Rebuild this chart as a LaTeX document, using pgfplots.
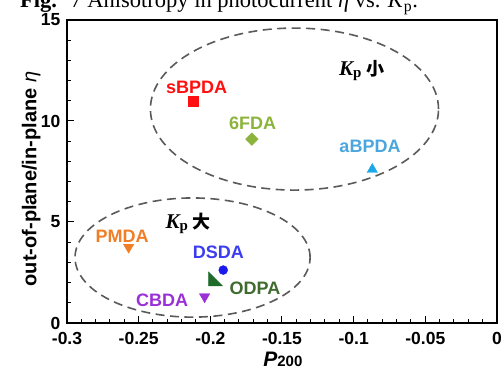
\documentclass[border=0pt]{standalone}
\usepackage{pgfplots}
\pgfplotsset{compat=1.18}
\usepackage{fontspec}
\setmainfont{Liberation Sans}
\newfontfamily\serif{Liberation Serif}
\newfontfamily\cjk{Noto Sans CJK SC}
\definecolor{cRed}{HTML}{FF1010}
\definecolor{cOlive}{HTML}{8CB43C}
\definecolor{cLBlue}{HTML}{1AA8E8}
\definecolor{cLBlueT}{HTML}{4AA6DC}
\definecolor{cOrange}{HTML}{F07E26}
\definecolor{cBlue}{HTML}{1A1AEE}
\definecolor{cBlueT}{HTML}{3C3CF0}
\definecolor{cDGreen}{HTML}{1E6B2A}
\definecolor{cDGreenT}{HTML}{3F6B2E}
\definecolor{cPurple}{HTML}{9A30D8}
\definecolor{cDash}{HTML}{5A5A5A}
\pgfdeclareplotmark{rtri}{%
  \pgfpathmoveto{\pgfqpoint{-\pgfplotmarksize}{\pgfplotmarksize}}%
  \pgfpathlineto{\pgfqpoint{-\pgfplotmarksize}{-\pgfplotmarksize}}%
  \pgfpathlineto{\pgfqpoint{\pgfplotmarksize}{-\pgfplotmarksize}}%
  \pgfpathclose\pgfusepathqfillstroke}
\newcommand{\lab}{\fontsize{18}{18}\selectfont\bfseries}
\newcommand{\kp}[1]{{\serif\fontsize{21}{21}\selectfont\bfseries\itshape K}\raisebox{-2pt}{\serif\fontsize{15}{15}\selectfont\bfseries p}\hspace{5pt}{\cjk\fontsize{18}{18}\selectfont\bfseries #1}}
\begin{document}
\begin{tikzpicture}
\begin{axis}[
  at={(67pt,48pt)}, anchor=south west,
  scale only axis, width=430pt, height=303pt,
  xmin=-0.3, xmax=0, ymin=0, ymax=15,
  xtick={-0.3,-0.25,-0.2,-0.15,-0.1,-0.05,0},
  xticklabels={-0.3,-0.25,-0.2,-0.15,-0.1,-0.05,0},
  ytick={0,5,10,15},
  yticklabels={0,5,10,15},
  minor x tick num=4, minor y tick num=4,
  xtick pos=bottom, ytick pos=left,
  tick align=inside,
  major tick length=7pt, minor tick length=4pt,
  every tick/.style={black, line width=1pt},
  axis line style={line width=1.3pt},
  tick label style={font=\fontsize{17.5}{17.5}\selectfont\bfseries, inner sep=1pt},
  xticklabel style={yshift=-8.5pt},
  yticklabel style={xshift=-5.5pt},
  xlabel={{\fontsize{21}{21}\selectfont\bfseries\itshape P}{\fontsize{15}{15}\selectfont\bfseries 200}},
  ylabel={{\fontsize{20}{20}\selectfont\bfseries out-of-plane/in-plane \itshape\mdseries η}},
  every axis x label/.style={at={(axis description cs:0.502,-0.12)}, anchor=center},
  every axis y label/.style={at={(axis description cs:-0.083,0.475)}, anchor=center, rotate=90},
  clip=false,
]
\draw[cDash, line width=1.6pt, dash pattern=on 9pt off 5.5pt] (axis cs:-0.1413,10.59) ellipse [x radius=0.1005, y radius=4.01];
\draw[cDash, line width=1.6pt, dash pattern=on 9pt off 5.5pt] (axis cs:-0.2124,3.24) ellipse [x radius=0.082, y radius=2.95];
\addplot[only marks, mark=square*, mark size=5pt, color=cRed] coordinates {(-0.212,11.0)};
\addplot[only marks, mark=square*, mark size=4.5pt, mark options={rotate=45}, color=cOlive] coordinates {(-0.171,9.1)};
\addplot[only marks, mark=triangle*, mark size=6pt, color=cLBlue] coordinates {(-0.087,7.6)};
\addplot[only marks, mark=triangle*, mark size=6pt, mark options={rotate=180}, color=cOrange] coordinates {(-0.257,3.75)};
\addplot[only marks, mark=*, mark size=4.5pt, color=cBlue] coordinates {(-0.191,2.62)};
\addplot[only marks, mark=rtri, mark size=7pt, color=cDGreen] coordinates {(-0.1964,2.18)};
\addplot[only marks, mark=triangle*, mark size=6pt, mark options={rotate=180}, color=cPurple] coordinates {(-0.204,1.3)};
\node[text=cRed, font=\lab] at (axis cs:-0.2095,11.68) {sBPDA};
\node[text=cOlive, font=\lab] at (axis cs:-0.1705,9.9) {6FDA};
\node[text=cLBlueT, font=\lab] at (axis cs:-0.0886,8.73) {aBPDA};
\node[text=cOrange, font=\lab] at (axis cs:-0.2616,4.31) {PMDA};
\node[text=cBlueT, font=\lab] at (axis cs:-0.1944,3.48) {DSDA};
\node[text=cDGreenT, font=\lab] at (axis cs:-0.1688,1.73) {ODPA};
\node[text=cPurple, font=\lab] at (axis cs:-0.2337,1.14) {CBDA};
\node at (axis cs:-0.0944,12.52) {\kp{小}};
\node at (axis cs:-0.2154,4.94) {\kp{大}};
\end{axis}
\node[anchor=base west, inner sep=0pt, font=\serif\fontsize{22.5}{22.5}\selectfont] at (20pt,363pt) {{\bfseries Fig.}\hspace{0.6em}7 Anisotropy in photocurrent \textit{η} vs. \textit{K}\textsubscript{p}.};
\pgfresetboundingbox
\path[use as bounding box] (0pt,0pt) rectangle (504pt,371pt);
\end{tikzpicture}
\end{document}
